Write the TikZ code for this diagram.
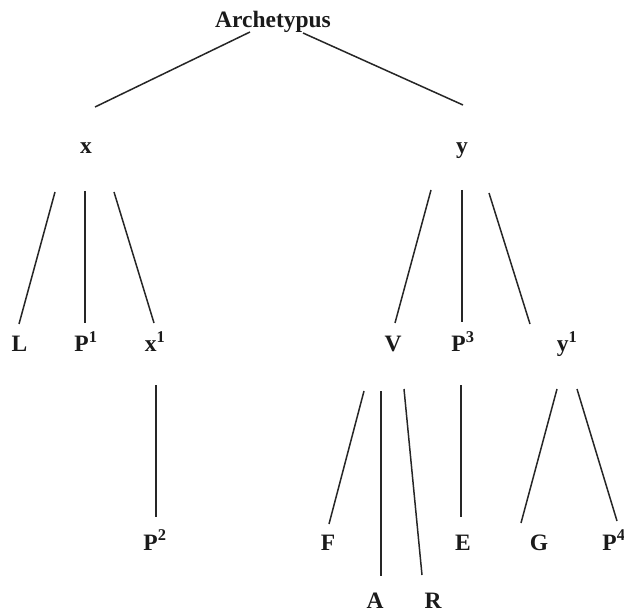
\documentclass[tikz,border=0pt]{standalone}
\usepackage{fontspec}
\setmainfont{Liberation Serif}
\definecolor{ink}{HTML}{1A1A1A}
\definecolor{stem}{HTML}{262626}
\begin{document}
\begin{tikzpicture}[x=1pt,y=-1pt,
  lbl/.style={inner sep=0pt,anchor=base,text=ink,
    font=\fontsize{23.5}{28}\selectfont\bfseries},
  edge/.style={draw=stem,line width=1.5pt}]
\useasboundingbox (0,0) rectangle (624,612);

% labels of the stemma
\node[lbl] (arch) at (273,28) {Archetypus};
\node[lbl] (x)  at (86,154)  {x};
\node[lbl] (y)  at (462,154) {y};
\node[lbl] (L)  at (19.5,352) {L};
\node[lbl] (P1) at (86,352)  {P\textsuperscript{1}};
\node[lbl] (x1) at (155,352) {x\textsuperscript{1}};
\node[lbl] (V)  at (393,352) {V};
\node[lbl] (P3) at (463,352) {P\textsuperscript{3}};
\node[lbl] (y1) at (567,352) {y\textsuperscript{1}};
\node[lbl] (P2) at (155,550) {P\textsuperscript{2}};
\node[lbl] (F)  at (328,550) {F};
\node[lbl] (E)  at (463,550) {E};
\node[lbl] (G)  at (539,550) {G};
\node[lbl] (P4) at (614,550) {P\textsuperscript{4}};
\node[lbl] (A)  at (375,608) {A};
\node[lbl] (R)  at (433,608) {R};

% branches
\draw[edge] ([shift={(-23,4)}]arch.base) -- ([shift={(9,-47)}]x.base);
\draw[edge] ([shift={(30,5)}]arch.base) -- ([shift={(1,-49)}]y.base);

\draw[edge] ([shift={(-31,38)}]x.base) -- ([shift={(-0.5,-28)}]L.base);
\draw[edge] ([shift={(-1,37)}]x.base)  -- ([shift={(-1,-29)}]P1.base);
\draw[edge] ([shift={(28,38)}]x.base)  -- ([shift={(-1,-29)}]x1.base);

\draw[edge] ([shift={(-31,36)}]y.base) -- ([shift={(2,-29)}]V.base);
\draw[edge] ([shift={(0,36)}]y.base)   -- ([shift={(-1,-30)}]P3.base);
\draw[edge] ([shift={(27,39)}]y.base)  -- ([shift={(-37,-28)}]y1.base);

\draw[edge] ([shift={(1,33)}]x1.base) -- ([shift={(1,-33)}]P2.base);

\draw[edge] ([shift={(-29,39)}]V.base) -- ([shift={(1,-26)}]F.base);
\draw[edge] ([shift={(-12,39)}]V.base) -- ([shift={(6,-32)}]A.base);
\draw[edge] ([shift={(11,37)}]V.base)  -- ([shift={(-11,-33)}]R.base);

\draw[edge] ([shift={(-2,33)}]P3.base) -- ([shift={(-2,-33)}]E.base);

\draw[edge] ([shift={(-10,37)}]y1.base) -- ([shift={(-18,-27)}]G.base);
\draw[edge] ([shift={(10,37)}]y1.base)  -- ([shift={(3,-29)}]P4.base);
\end{tikzpicture}
\end{document}
